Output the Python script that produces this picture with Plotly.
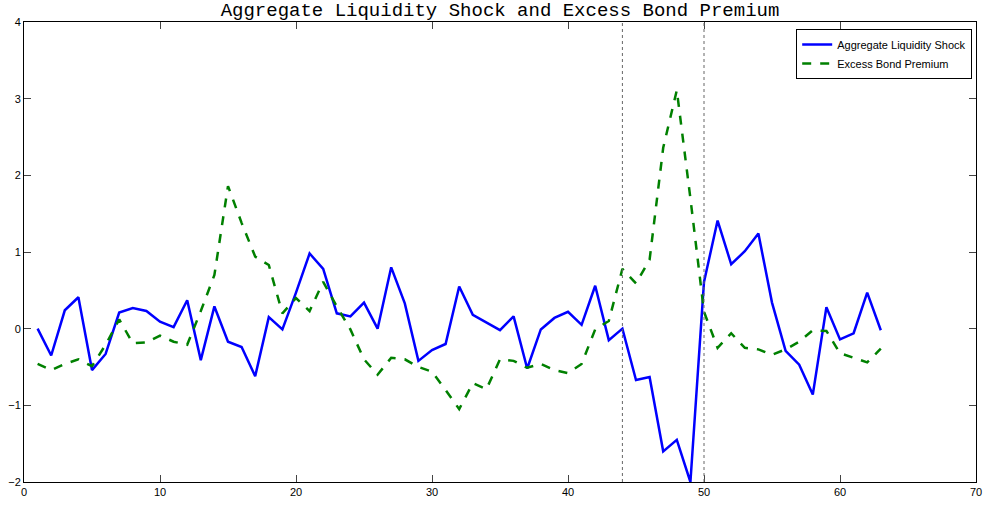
import plotly.graph_objects as go

# ---- data ----
periods = list(range(1, 64))
liquidity_shock = [
    0.00, -0.35, 0.24, 0.41, -0.54, -0.33, 0.21, 0.27, 0.23, 0.09,
    0.02, 0.37, -0.41, 0.29, -0.17, -0.24, -0.62, 0.15, -0.01, 0.47,
    0.98, 0.78, 0.20, 0.16, 0.34, 0.00, 0.80, 0.33, -0.42, -0.28,
    -0.20, 0.55, 0.18, 0.08, -0.02, 0.16, -0.52, -0.01, 0.14, 0.22,
    0.05, 0.56, -0.15, 0.00, -0.67, -0.63, -1.60, -1.45, -2.00, 0.61,
    1.41, 0.84, 1.01, 1.24, 0.34, -0.29, -0.47, -0.86, 0.28, -0.14,
    -0.06, 0.47, -0.02,
]
bond_premium = [
    -0.46, -0.54, -0.46, -0.40, -0.49, -0.21, 0.12, -0.19, -0.18, -0.09,
    -0.17, -0.21, 0.23, 0.70, 1.86, 1.38, 0.94, 0.83, 0.20, 0.40,
    0.23, 0.61, 0.29, -0.01, -0.40, -0.60, -0.38, -0.40, -0.50, -0.56,
    -0.80, -1.05, -0.71, -0.79, -0.40, -0.42, -0.51, -0.46, -0.54, -0.58,
    -0.46, -0.01, 0.10, 0.78, 0.59, 0.90, 2.36, 3.11, 1.70, 0.22,
    -0.25, -0.06, -0.25, -0.27, -0.34, -0.27, -0.17, -0.02, -0.03, -0.32,
    -0.38, -0.44, -0.26,
]
event_dates = [44, 50]
x_ticks = [0, 10, 20, 30, 40, 50, 60, 70]
y_ticks = [-2, -1, 0, 1, 2, 3, 4]

fig = go.Figure()
fig.add_trace(go.Scatter(
    x=periods, y=liquidity_shock, mode="lines",
    name="Aggregate Liquidity Shock",
    line=dict(color="#0000FF", width=2.5),
))
fig.add_trace(go.Scatter(
    x=periods, y=bond_premium, mode="lines",
    name="Excess Bond Premium",
    line=dict(color="#008000", width=2.5, dash="dash"),
))
for d in event_dates:
    fig.add_vline(x=d, line=dict(color="#666666", width=1, dash="dot"))

axis_font = dict(family="Liberation Sans Narrow, Arial Narrow, Liberation Sans, Arial", size=11, color="black")
fig.update_layout(
    width=987, height=506,
    margin=dict(l=24, r=11, t=22, b=24),
    paper_bgcolor="white", plot_bgcolor="white",
    title=dict(
        text="Aggregate Liquidity Shock and Excess Bond Premium",
        font=dict(family="Liberation Mono, Courier New, monospace", size=19, color="black"),
        x=0.5, xref="paper", xanchor="center",
        y=1.0, yref="container", yanchor="top",
        pad=dict(t=3, b=0),
        automargin=False,
    ),
    showlegend=True,
    legend=dict(
        x=0.996, y=0.985, xanchor="right", yanchor="top",
        bgcolor="white", bordercolor="black", borderwidth=1,
        font=dict(family="Liberation Sans, Arial", size=11, color="black"),
        tracegroupgap=0,
    ),
    xaxis=dict(
        range=[0, 70], tickvals=x_ticks, ticks="inside", ticklen=7,
        showline=True, linecolor="black", linewidth=1, mirror="ticks",
        showgrid=False, zeroline=False, tickfont=axis_font,
        automargin=False, ticklabeloverflow="allow",
    ),
    yaxis=dict(
        range=[-2, 4], tickvals=y_ticks, ticks="inside", ticklen=7,
        showline=True, linecolor="black", linewidth=1, mirror="ticks",
        showgrid=False, zeroline=False, tickfont=axis_font,
        automargin=False, ticklabeloverflow="allow",
    ),
)

fig.write_html(
    "out.html",
    config={"displayModeBar": False},
    post_script="document.body.style.margin='0';document.body.style.overflow='hidden';",
)
